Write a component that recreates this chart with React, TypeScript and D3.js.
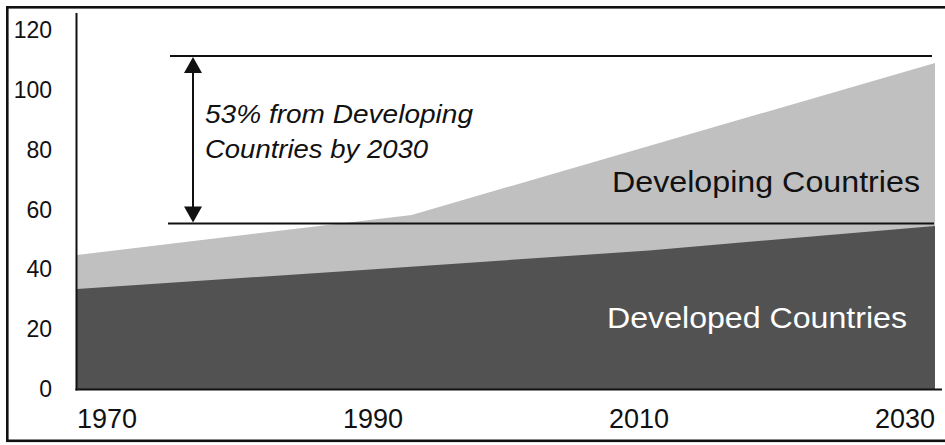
import React from "react";
import * as d3 from "d3";

const developedYears = [1970, 1990, 2010, 2030];
const developedValues = [33.4, 39.8, 46.3, 54.5];
const totalYears = [1970, 1993.4, 2030];
const totalValues = [44.8, 58.2, 109];
const yTicks = [0, 20, 40, 60, 80, 100, 120];
const xTickLabels = ["1970", "1990", "2010", "2030"];
const annotationTop = 111.3;
const annotationBottom = 55.3;
const annotationText = ["53% from Developing", "Countries by 2030"];
const developingLabel = "Developing Countries";
const developedLabel = "Developed Countries";

const W = 945;
const H = 445;

export default function App() {
  const x = d3.scaleLinear().domain([1970, 2030]).range([77, 935]);
  const y = d3.scaleLinear().domain([0, 120]).range([389, 30]);
  const xLab = d3.scalePoint<string>().domain(xTickLabels).range([107, 905]);

  const totalPts = totalYears.map((t, i) => [t, totalValues[i]] as [number, number]);
  const devPts = developedYears.map((t, i) => [t, developedValues[i]] as [number, number]);

  const area = d3
    .area<[number, number]>()
    .x((d) => x(d[0]))
    .y0(y(0))
    .y1((d) => y(d[1]));

  const yTop = y(annotationTop);
  const yBot = y(annotationBottom);
  const ax = 193;
  const font = "'Liberation Sans', Arial, sans-serif";

  return (
    <svg
      width={W}
      height={H}
      style={{ position: "absolute", left: 0, top: 0, background: "#fff" }}
      fontFamily={font}
    >
      <rect x={0} y={0} width={W} height={H} fill="#fff" />
      <rect x={7.3} y={7.3} width={950} height={433.5} fill="none" stroke="#111" strokeWidth={2.6} />

      <path d={area(totalPts) || ""} fill="#c0c0c0" />
      <path d={area(devPts) || ""} fill="#525252" />

      {/* axes */}
      <line x1={76.5} x2={76.5} y1={13} y2={390.5} stroke="#111" strokeWidth={2} />
      <line x1={75.5} x2={942} y1={389.5} y2={389.5} stroke="#111" strokeWidth={2} />

      {yTicks.map((t) => (
        <text key={t} x={52} y={y(t)} dy="0.35em" textAnchor="end" fontSize={23} fill="#111">
          {t}
        </text>
      ))}
      {xTickLabels.map((l) => (
        <text key={l} x={xLab(l)} y={428} textAnchor="middle" fontSize={27} fill="#111">
          {l}
        </text>
      ))}

      {/* annotation lines */}
      <line x1={170} x2={932} y1={yTop} y2={yTop} stroke="#111" strokeWidth={2} />
      <line x1={168} x2={934} y1={yBot} y2={yBot} stroke="#111" strokeWidth={2} />
      <line x1={ax} x2={ax} y1={yTop + 10} y2={yBot - 10} stroke="#111" strokeWidth={2} />
      <path d={`M${ax},${yTop + 1} L${ax - 9},${yTop + 17} L${ax + 9},${yTop + 17} Z`} fill="#111" />
      <path d={`M${ax},${yBot - 1} L${ax - 9},${yBot - 17} L${ax + 9},${yBot - 17} Z`} fill="#111" />

      <text x={205} y={123} fontSize={25} fontStyle="italic" fill="#111" textLength={268} lengthAdjust="spacingAndGlyphs">
        {annotationText[0]}
      </text>
      <text x={205} y={158} fontSize={25} fontStyle="italic" fill="#111" textLength={223} lengthAdjust="spacingAndGlyphs">
        {annotationText[1]}
      </text>

      <text x={612} y={192} fontSize={29} fill="#111" textLength={308} lengthAdjust="spacingAndGlyphs">
        {developingLabel}
      </text>
      <text x={607} y={328} fontSize={29} fill="#fff" textLength={300} lengthAdjust="spacingAndGlyphs">
        {developedLabel}
      </text>
    </svg>
  );
}
